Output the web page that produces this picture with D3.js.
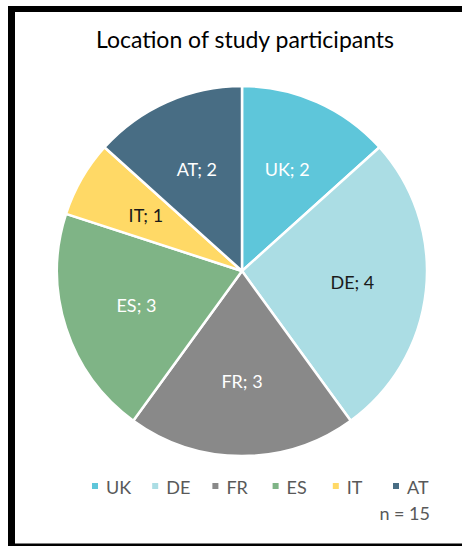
<!DOCTYPE html>
<html>
<head>
<meta charset="utf-8">
<script src="https://cdn.jsdelivr.net/npm/d3@7"></script>
<style>
	body {margin: 0; background: #fff;}
	text {font-family: "Lato", "Open Sans", sans-serif;}
</style>
</head>
<body>
<div id="chart_disp"></div>
<script>
// chart data
var countries = ["UK", "DE", "FR", "ES", "IT", "AT"];
var participants = [2, 4, 3, 3, 1, 2];
var slice_colors = ["#5ec6da", "#abdde4", "#898989", "#7fb486", "#ffd966", "#486d84"];
var label_colors = ["#fff", "#1a1a1a", "#fff", "#fff", "#1a1a1a", "#fff"];
var title = "Location of study participants";
var note = "n = 15";

var container_dimensions = {width: 462, height: 546},
	center = {x: 242, y: 271},
	radius = 185;

var svg = d3.select("#chart_disp")
	.append("svg")
		.attr("width", container_dimensions.width)
		.attr("height", container_dimensions.height);

// frame (only left, top, bottom visible in the crop)
svg.append("line").attr("x1", 11.5).attr("x2", 11.5).attr("y1", 6).attr("y2", 546)
	.attr("stroke", "#000").attr("stroke-width", 7);
svg.append("line").attr("x1", 8).attr("x2", 462).attr("y1", 9).attr("y2", 9)
	.attr("stroke", "#000").attr("stroke-width", 6);
svg.append("line").attr("x1", 8).attr("x2", 462).attr("y1", 545).attr("y2", 545)
	.attr("stroke", "#000").attr("stroke-width", 3);

svg.append("text")
	.attr("x", 245)
	.attr("y", 48)
	.attr("text-anchor", "middle")
	.attr("font-size", 23)
	.attr("fill", "#000")
	.text(title);

var data = countries.map(function(c, i){return {name: c, value: participants[i], i: i}});

var pie = d3.pie().sort(null).value(function(d){return d.value});
var arc = d3.arc().innerRadius(0).outerRadius(radius);
var label_arc = d3.arc().innerRadius(radius * 0.6).outerRadius(radius * 0.6);
var color = d3.scaleOrdinal().domain(countries).range(slice_colors);

var g = svg.append("g").attr("transform", "translate(" + center.x + "," + center.y + ")");

g.selectAll("path")
	.data(pie(data))
	.enter()
	.append("path")
		.attr("d", arc)
		.attr("fill", function(d){return color(d.data.name)})
		.attr("stroke", "#fff")
		.attr("stroke-width", 2.5)
		.attr("stroke-linejoin", "round");

g.selectAll("text")
	.data(pie(data))
	.enter()
	.append("text")
		.attr("transform", function(d){return "translate(" + label_arc.centroid(d) + ")"})
		.attr("text-anchor", "middle")
		.attr("dy", "0.35em")
		.attr("font-size", 18)
		.attr("fill", function(d){return label_colors[d.data.i]})
		.text(function(d){return d.data.name + "; " + d.data.value});

// legend
var legend_x = d3.scalePoint().domain(countries).range([92, 393]);

var legend = svg.selectAll("g.legend")
	.data(countries)
	.enter()
	.append("g")
		.attr("class", "legend")
		.attr("transform", function(d){return "translate(" + legend_x(d) + ",488)"});

legend.append("rect")
	.attr("x", 0).attr("y", -5)
	.attr("width", 6).attr("height", 6)
	.attr("fill", function(d){return color(d)});

legend.append("text")
	.attr("x", 14)
	.attr("dy", "0.35em")
	.attr("font-size", 18)
	.attr("fill", "#595959")
	.text(function(d){return d});

svg.append("text")
	.attr("x", 430)
	.attr("y", 520)
	.attr("text-anchor", "end")
	.attr("font-size", 18)
	.attr("fill", "#595959")
	.text(note);
</script>
</body>
</html>
